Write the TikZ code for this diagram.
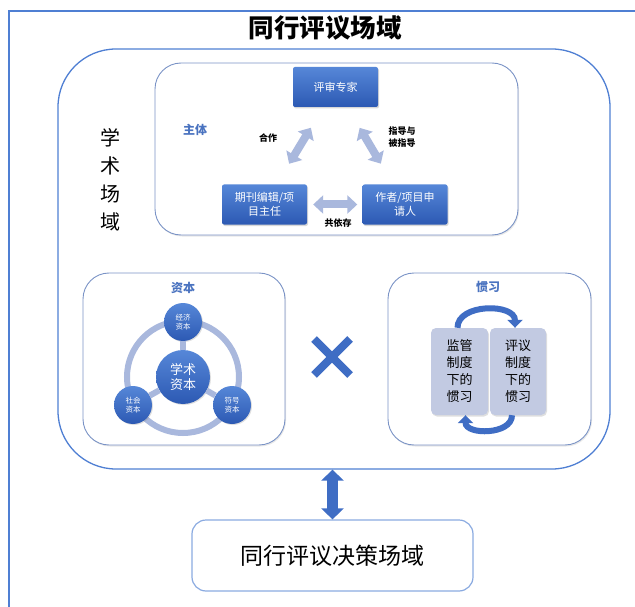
\documentclass[tikz,border=0pt]{standalone}
\usepackage{fontspec}
\setmainfont{Noto Sans CJK SC}
\usetikzlibrary{positioning,arrows.meta,shapes.misc,shadows}
\definecolor{frameblue}{HTML}{4F7FD3}
\definecolor{boxline}{HTML}{7A93C6}
\definecolor{deepblue}{HTML}{3F6DC4}
\definecolor{boxtop}{HTML}{5687D8}
\definecolor{boxbottom}{HTML}{2C59B3}
\definecolor{lightarrow}{HTML}{A9B8DD}
\definecolor{panelgray}{HTML}{C2CAE2}
\definecolor{labelblue}{HTML}{4A73C0}
\definecolor{decline}{HTML}{8AAAE0}

\begin{document}
\begin{tikzpicture}[
        x=1pt,y=-1pt,
        frame/.style={
          draw=frameblue,
          line width=1.3pt
          },
        field/.style={
          draw=frameblue,
          line width=1.3pt,
          rounded corners=58pt,
          minimum width=552pt,
          minimum height=420pt
          },
        area/.style={
          draw=boxline,
          fill=white,
          line width=0.9pt,
          rounded corners=26pt,
          drop shadow={opacity=0.18,shadow xshift=1pt,shadow yshift=-1.5pt}
          },
        tag/.style={
          text=labelblue,
          font=\bfseries\fontsize{12}{14}\selectfont
          },
        word/.style={
          font=\bfseries\fontsize{9}{12}\selectfont,
          align=left
          },
        bluebox/.style={
          rectangle,
          rounded corners=2pt,
          top color=boxtop,
          bottom color=boxbottom,
          text=white,
          minimum width=85pt,
          minimum height=40pt,
          align=center,
          font=\fontsize{11}{14}\selectfont,
          drop shadow={opacity=0.3,shadow xshift=1pt,shadow yshift=-1.5pt}
          },
        pair/.style={
          draw=lightarrow,
          line width=8pt,
          {Triangle[width=18pt,length=10pt]}-{Triangle[width=18pt,length=10pt]}
          },
        ring/.style={
          draw=lightarrow,
          line width=6pt
          },
        ball/.style={
          circle,
          inner sep=0pt,
          top color=boxtop,
          bottom color=boxbottom,
          text=white,
          align=center,
          drop shadow={opacity=0.25,shadow xshift=1pt,shadow yshift=-1pt}
          },
        panel/.style={
          rectangle,
          rounded corners=5pt,
          fill=panelgray,
          minimum height=87pt,
          align=center,
          font=\fontsize{13}{17}\selectfont,
          drop shadow={opacity=0.25,shadow xshift=1pt,shadow yshift=-1.5pt}
          },
        cycle/.style={
          draw=deepblue,
          line width=6pt,
          -{Triangle[width=15pt,length=8pt]}
          },
        link/.style={
          draw=deepblue,
          line width=11pt,
          {Triangle[width=22pt,length=11pt]}-{Triangle[width=22pt,length=11pt]}
          }
        ]
        \useasboundingbox (0,0) rectangle (635,607);
        \draw[frame] (9,607) -- (9,11) -- (635,11);
        \node[font=\bfseries\fontsize{25.5}{28}\selectfont] (title) at (325,28) {同行评议场域};
        \node[field] (academic) at (334,259) {};
        \node[font=\fontsize{20}{28}\selectfont, align=center] (fieldname) at (110,180) {学\\术\\场\\域};

        \node[area, minimum width=363pt, minimum height=172pt] (subject) at (336.5,149) {};
        \node[tag] (subjecttag) at (195,130) {主体};
        \node[bluebox] (expert) at (335.5,87) {评审专家};
        \node[bluebox] (editor) at (264.5,204.5) {期刊编辑/项\\目主任};
        \node[bluebox] (author) at (405,204.5) {作者/项目申\\请人};
        \draw[pair, shorten <=24pt, shorten >=24pt] (editor) -- (expert);
        \draw[pair, shorten <=24pt, shorten >=24pt] (expert) -- (author);
        \draw[pair, shorten <=6pt, shorten >=5pt] (editor) -- (author);
        \node[word] (coop) at (268,138) {合作};
        \node[word] (guide) at (402,137) {指导与\\被指导};
        \node[word] (depend) at (338,223) {共依存};

        \node[area, minimum width=202pt, minimum height=172pt] (capital) at (184,359) {};
        \node[tag] (capitaltag) at (183,288) {资本};
        \draw[ring] (183,377) circle (56);
        \node[ball, minimum size=54pt, font=\fontsize{13}{15.5}\selectfont] (core) at (183,377) {学术\\资本};
        \node[ball, minimum size=38pt, font=\fontsize{7.5}{9.5}\selectfont] (econ) at (183,322) {经济\\资本};
        \node[ball, minimum size=38pt, font=\fontsize{7.5}{9.5}\selectfont] (social) at (133,405) {社会\\资本};
        \node[ball, minimum size=38pt, font=\fontsize{7.5}{9.5}\selectfont] (symbol) at (232,405) {符号\\资本};
        \foreach \b in {econ,social,symbol}
          \draw[ring] (core) -- (\b);

        \node[cross out, draw=deepblue, line width=8pt, inner sep=0pt, minimum size=28pt] (times) at (332,357) {};

        \node[area, minimum width=203pt, minimum height=172pt] (habitus) at (489.5,359) {};
        \node[tag] (habitustag) at (488,287) {惯习};
        \node[panel, minimum width=57pt] (habL) at (459.5,371.5) {监管\\制度\\下的\\惯习};
        \node[panel, minimum width=56pt] (habR) at (518,371.5) {评议\\制度\\下的\\惯习};
        \draw[cycle] ([xshift=-2pt]habL.north) to[out=90,in=90,looseness=1.1] ([xshift=-3pt]habR.north);
        \draw[cycle] ([xshift=-6pt]habR.south) to[out=-90,in=-90,looseness=1.1] ([xshift=6pt]habL.south);

        \node[draw=decline, line width=1.2pt, rounded corners=14pt, minimum width=281pt, minimum height=71pt, font=\fontsize{23}{26}\selectfont] (decision) at (332.5,555.5) {同行评议决策场域};
        \draw[link] (academic.south -| decision.north) -- (decision.north);
    \end{tikzpicture}
\end{document}
